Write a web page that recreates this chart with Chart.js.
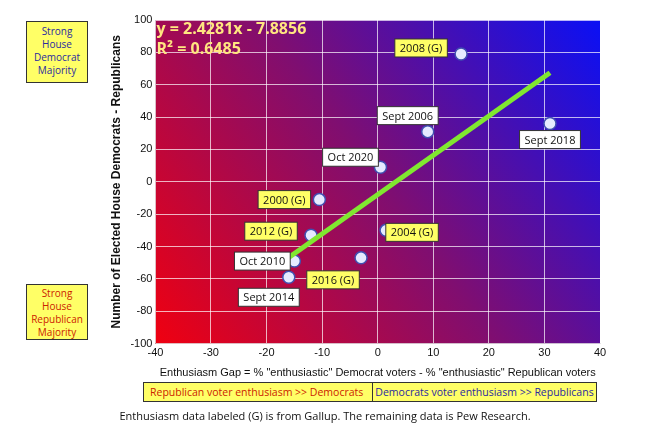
<!DOCTYPE html>
<html><head><meta charset="utf-8">
<script src="https://cdn.jsdelivr.net/npm/chart.js@4"></script>
<style>
body{margin:0;background:#fff;font-family:"Open Sans",sans-serif;}
#wrap{position:relative;width:650px;height:446px;}
canvas{position:absolute;left:0;top:0;}
.box{position:absolute;background:#ffff66;border:1.5px solid #333;font-size:10px;line-height:13px;text-align:center;box-sizing:border-box;}
</style></head>
<body>
<div id="wrap">
<canvas id="c" width="650" height="446"></canvas>
<div class="box" style="left:26px;top:21px;width:62px;height:62px;color:#2a2aa0;padding-top:3px">Strong<br>House<br>Democrat<br>Majority</div>
<div class="box" style="left:26px;top:284px;width:62px;height:56px;color:#cc2200;padding-top:2px">Strong<br>House<br>Republican<br>Majority</div>
<div class="box" style="left:143px;top:382px;width:230px;height:20px;color:#cc2200;padding-top:3px;font-size:10.5px;text-align:left;padding-left:6px">Republican voter enthusiasm &gt;&gt; Democrats</div>
<div class="box" style="left:372px;top:382px;width:225px;height:20px;color:#2a2aa0;padding-top:3px;font-size:10.5px">Democrats voter enthusiasm &gt;&gt; Republicans</div>
<div style="position:absolute;left:0;width:650px;top:408px;text-align:center;font-size:11px;color:#111">Enthusiasm data labeled (G) is from Gallup. The remaining data is Pew Research.</div>
</div>
<script>
const labels = ['2008 (G)','Sept 2006','Sept 2018','Oct 2020','2000 (G)','2012 (G)','2004 (G)','2016 (G)','Oct 2010','Sept 2014'];
const gapX = [15, 9, 31, 0.5, -10.5, -12, 1.5, -3, -15, -16];
const seatsY = [79, 31, 36, 9, -11, -33, -30, -47, -49, -59];
const slope = 2.4281, intercept = -7.8856;
const trendX = [-16, 31];
// label box offsets (px) relative to each point
const offs = [[-40,-6],[-20,-16],[0,16],[-30,-10],[-35,0],[-40,-4],[26,2],[-28,22],[-32,0],[-20,20]];

const bgPlugin = {
  id:'bg',
  beforeDraw(ch){
    const {ctx, chartArea:a} = ch;
    const g = ctx.createLinearGradient(a.left, a.bottom, a.right, a.top);
    g.addColorStop(0,'#f00010'); g.addColorStop(0.5,'#800e70'); g.addColorStop(1,'#0a10f5');
    ctx.save(); ctx.fillStyle = g; ctx.fillRect(a.left,a.top,a.right-a.left,a.bottom-a.top); ctx.restore();
  },
  afterDatasetsDraw(ch){
    const {ctx} = ch;
    const meta = ch.getDatasetMeta(1);
    ctx.save();
    ctx.font = '11px "Open Sans"';
    ctx.textAlign='center'; ctx.textBaseline='middle';
    meta.data.forEach((p,i)=>{
      const t = labels[i];
      const w = ctx.measureText(t).width + 10, h = 18;
      const cx = p.x + offs[i][0], cy = p.y + offs[i][1];
      ctx.fillStyle = t.includes('(G)') ? '#ffff66' : '#fff';
      ctx.strokeStyle = '#333'; ctx.lineWidth = 1;
      ctx.fillRect(cx-w/2, cy-h/2, w, h); ctx.strokeRect(cx-w/2, cy-h/2, w, h);
      ctx.fillStyle = '#111'; ctx.fillText(t, cx, cy+1);
    });
    const a = ch.chartArea;
    ctx.textAlign='left'; ctx.textBaseline='top';
    ctx.font = 'bold 16px "Open Sans"'; ctx.fillStyle = '#ffe680';
    ctx.fillText('y = 2.4281x - 7.8856', a.left+1, a.top+1);
    ctx.fillText('R² = 0.6485', a.left+1, a.top+21);
    ctx.restore();
  }
};

new Chart(document.getElementById('c'), {
  type:'scatter',
  data:{datasets:[
    {type:'line', data: trendX.map(x=>({x, y: slope*x+intercept})), borderColor:'#80e830', borderWidth:5, pointRadius:0},
    {data: gapX.map((x,i)=>({x, y: seatsY[i]})), backgroundColor:'#e6eaff', borderColor:'#4050b0', borderWidth:1.5, pointRadius:6}
  ]},
  options:{
    responsive:false, animation:false,
    layout:{padding:{left:105,right:50,top:20,bottom:62}},
    plugins:{legend:{display:false}, tooltip:{enabled:false}},
    scales:{
      x:{min:-40,max:40,ticks:{stepSize:10,color:'#111',font:{size:11}},
         grid:{color:'rgba(255,255,255,0.7)',borderDash:[2,2],drawTicks:false},
         title:{display:true,text:'Enthusiasm Gap = % "enthusiastic" Democrat voters - % "enthusiastic" Republican voters',color:'#111',font:{size:11}}},
      y:{min:-100,max:100,ticks:{stepSize:20,color:'#111',font:{size:11}},
         grid:{color:'rgba(255,255,255,0.7)',borderDash:[2,2],drawTicks:false},
         title:{display:true,text:'Number of Elected House Democrats - Republicans',color:'#111',font:{size:12,weight:'bold'}}}
    }
  },
  plugins:[bgPlugin]
});
</script>
</body></html>
